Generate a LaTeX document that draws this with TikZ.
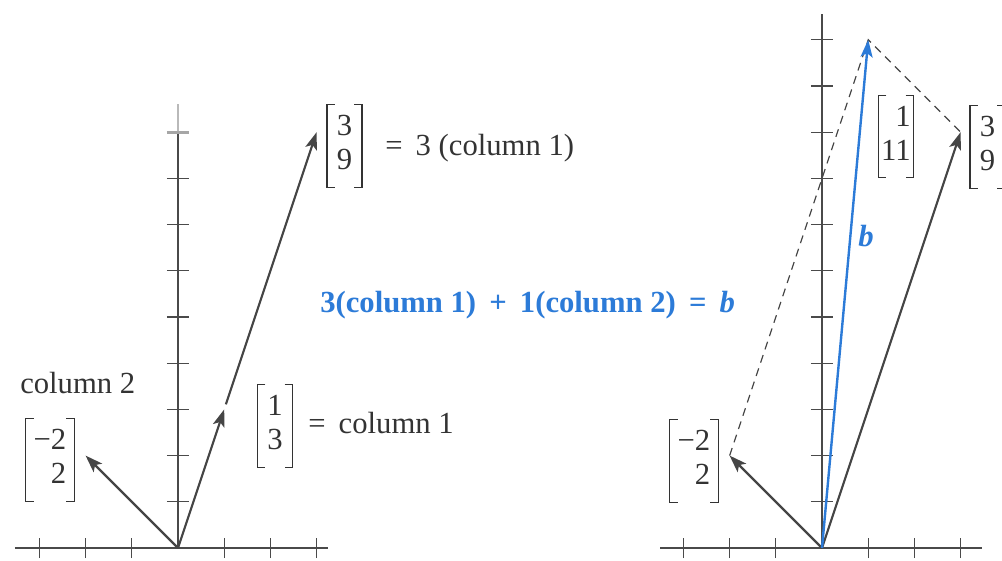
\documentclass[tikz,border=0pt]{standalone}
\usepackage{fontspec}
\setmainfont{Liberation Serif}
\usetikzlibrary{arrows.meta}
\definecolor{ink}{HTML}{454545}
\definecolor{txt}{HTML}{333333}
\definecolor{axc}{HTML}{4A4A4A}
\definecolor{blu}{HTML}{2C7BD8}
\newcommand\mysize{\fontsize{23}{25.5}\selectfont}
\newcommand\opsp{\hspace{0.43em}}
\newcommand\drawbrackets[1]{%
  \draw[brk] ([xshift=6pt]#1.north west) -- (#1.north west) -- (#1.south west) -- ([xshift=6pt]#1.south west);
  \draw[brk] ([xshift=-6pt]#1.north east) -- (#1.north east) -- (#1.south east) -- ([xshift=-6pt]#1.south east);}
\begin{document}
\begin{tikzpicture}[x=0.75pt,y=-0.75pt,
  axis/.style={draw=axc, line width=1pt},
  tick/.style={draw=axc, line width=1pt},
  vec/.style={draw=ink, line width=1.6pt, -{Stealth[length=13pt,width=9pt,inset=3pt]}},
  bvec/.style={draw=blu, line width=1.8pt, -{Stealth[length=13pt,width=9pt,inset=3pt]}},
  dline/.style={draw=ink, line width=0.9pt, dash pattern=on 6pt off 4.5pt},
  mat/.style={inner xsep=0pt, inner ysep=0pt, minimum width=26pt, minimum height=61.5pt, text=txt, font=\mysize},
  lbl/.style={text=txt, font=\mysize, inner sep=0pt},
  brk/.style={draw=txt, line width=1pt}]
\useasboundingbox (0,0) rectangle (1002,560);
\fill[white] (0,0) rectangle (1002,560);

% ---------- left plot ----------
\begin{scope}[shift={(178,548)}, x=34.65pt, y=34.65pt]
  \coordinate (LO) at (0,0);
  \coordinate (LA) at (1,3);
  \coordinate (LB) at (3,9);
  \coordinate (LC) at (-2,2);
  \coordinate (LXa) at (-3.53,0);
  \coordinate (LXb) at (3.25,0);
  \coordinate (LY9) at (0,9);
  \coordinate (LYt) at (0,9.6);
  \draw[axis] (LXa) -- (LXb);
  \draw[axis] (LO) -- (LY9);
  \draw[axis, draw=gray!55] (LY9) -- (LYt);
  \foreach \i in {-3,-2,-1,1,2,3} \draw[tick] (\i,-0.22) -- (\i,0.22);
  \foreach \j in {1,...,8} \draw[tick] (-0.24,\j) -- (0.24,\j);
  \draw[tick, draw=gray!70, line width=2.2pt] (-0.24,9) -- (0.24,9);
  \draw[vec] (LO) -- (LA);
  \draw[vec, shorten <=4pt] (LA) -- (LB);
  \draw[vec] (LO) -- (LC);
\end{scope}

% ---------- right plot ----------
\begin{scope}[shift={(822,548)}, x=34.65pt, y=34.65pt]
  \coordinate (RO) at (0,0);
  \coordinate (RB) at (3,9);
  \coordinate (RS) at (1,11);
  \coordinate (RC) at (-2,2);
  \coordinate (RXa) at (-3.5,0);
  \coordinate (RXb) at (3.46,0);
  \coordinate (RYt) at (0,11.56);
  \draw[axis] (RXa) -- (RXb);
  \draw[axis] (RO) -- (RYt);
  \foreach \i in {-3,-2,-1,1,2,3} \draw[tick] (\i,-0.22) -- (\i,0.22);
  \foreach \j in {1,...,11} \draw[tick] (-0.24,\j) -- (0.24,\j);
  \draw[dline] (RC) -- (RS) -- (RB);
  \draw[vec] (RO) -- (RB);
  \draw[vec] (RO) -- (RC);
  \draw[bvec] (RO) -- (RS);
\end{scope}

% ---------- labels left ----------
\node[mat] (m39L) at (344.5,146) {\begin{tabular}{@{}r@{}}3\\9\end{tabular}};
\drawbrackets{m39L}
\node[lbl, anchor=base west] (eq3) at (385,155) {=\opsp 3 (column 1)};
\node[lbl, anchor=base west] (c2) at (20,393) {column 2};
\node[mat, minimum width=36pt] (m22L) at (50,460) {\begin{tabular}{@{}r@{}}−2\\2\end{tabular}};
\drawbrackets{m22L}
\node[mat] (m13) at (275,426) {\begin{tabular}{@{}r@{}}1\\3\end{tabular}};
\drawbrackets{m13}
\node[lbl, anchor=base west] (eq1) at (308,433) {=\opsp column 1};

% ---------- centre equation ----------
\node[lbl, text=blu, anchor=base west, font=\mysize\bfseries] (eqb) at (320,312) {3(column 1)\opsp+\opsp1(column 2)\opsp=\opsp\textit{b}};

% ---------- labels right ----------
\node[mat, minimum width=36pt] (m22R) at (694,461) {\begin{tabular}{@{}r@{}}−2\\2\end{tabular}};
\drawbrackets{m22R}
\node[mat] (m111) at (896,136.5) {\begin{tabular}{@{}r@{}}1\\11\end{tabular}};
\drawbrackets{m111}
\node[mat] (m39R) at (987.5,147) {\begin{tabular}{@{}r@{}}3\\9\end{tabular}};
\drawbrackets{m39R}
\node[lbl, text=blu, anchor=base, font=\mysize\bfseries\itshape] (bl) at (866,246) {b};
\end{tikzpicture}
\end{document}
